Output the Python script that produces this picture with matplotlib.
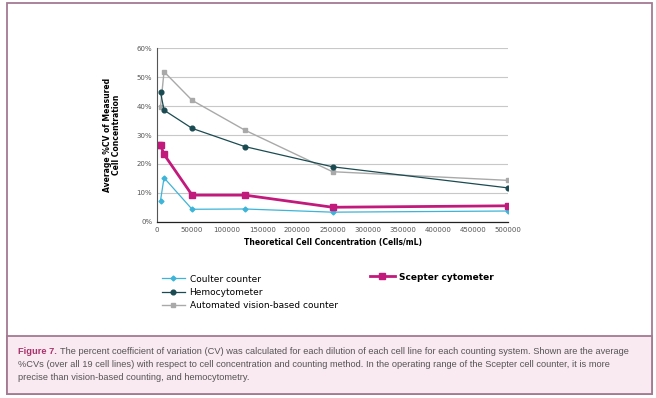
import numpy as np
import matplotlib.pyplot as plt
from matplotlib.lines import Line2D
from matplotlib.patches import Rectangle
from matplotlib.ticker import FuncFormatter

# values (%CV)
x_conc = [5000, 10000, 50000, 125000, 250000, 500000]
coulter = [7.3, 15.2, 4.3, 4.4, 3.3, 3.7]
hemo = [44.9, 38.6, 32.3, 26.0, 19.0, 11.7]
vision = [39.8, 51.9, 42.0, 31.7, 17.3, 14.3]
x_scepter = [2500, 5000, 10000, 50000, 125000, 250000, 500000]
scepter = [26.5, 26.5, 23.3, 9.2, 9.2, 5.0, 5.5]

c_coulter = '#3db4d8'
c_hemo = '#1b4b52'
c_vision = '#a9a9a9'
c_scepter = '#c2197c'
border = '#a27a92'

fig = plt.figure(figsize=(6.56, 3.98), dpi=100)
plt.rcParams['font.family'] = ['DejaVu Sans']

# outer frame and caption panel
fig.patches.append(Rectangle((7/656, 1-394/398), 645/656, 391/398, transform=fig.transFigure,
                             facecolor='white', edgecolor=border, lw=1.3, zorder=-10))
fig.patches.append(Rectangle((7/656, 1-394/398), 645/656, 58/398, transform=fig.transFigure,
                             facecolor='#f9e9f1', edgecolor=border, lw=1.3, zorder=-9))

ax = fig.add_axes([157/656, 1-221.7/398, 351/656, 173.4/398])
ax.set_facecolor('none')

ax.plot(x_conc, vision, color=c_vision, lw=1.0, marker='s', ms=3.2, label='Automated vision-based counter')
ax.plot(x_conc, hemo, color=c_hemo, lw=0.9, marker='o', ms=3.4, label='Hemocytometer')
ax.plot(x_conc, coulter, color=c_coulter, lw=0.9, marker='D', ms=2.5, label='Coulter counter')
ax.plot(x_scepter, scepter, color=c_scepter, lw=2.0, marker='s', ms=4.2, label='Scepter cytometer')

ax.set_xlim(0, 500000)
ax.set_ylim(0, 60)
ax.set_xticks(np.arange(0, 500001, 50000))
ax.set_yticks(np.arange(0, 61, 10))
ax.yaxis.set_major_formatter(FuncFormatter(lambda v, p: '%d%%' % v))
ax.grid(axis='y', color='#c8c8c8', lw=0.8)
ax.set_axisbelow(True)
for s in ['top', 'right']:
    ax.spines[s].set_visible(False)
ax.spines['left'].set_color('#555555')
ax.spines['bottom'].set_color('#222222')
ax.spines['left'].set_linewidth(0.8)
ax.spines['bottom'].set_linewidth(0.9)
ax.tick_params(axis='both', labelsize=5, colors='#555555', length=0, pad=3.5)

ax.set_xlabel('Theoretical Cell Concentration (Cells/mL)', fontsize=5.5, fontweight='bold', labelpad=4)
ax.set_ylabel('Average %CV of Measured\nCell Concentration', fontsize=5.5, fontweight='bold', labelpad=11,
              linespacing=1.1)

h_left = [Line2D([], [], color=c_coulter, lw=0.9, marker='D', ms=2.5),
          Line2D([], [], color=c_hemo, lw=0.9, marker='o', ms=3.4),
          Line2D([], [], color=c_vision, lw=1.0, marker='s', ms=3.2)]
fig.legend(h_left, ['Coulter counter', 'Hemocytometer', 'Automated vision-based counter'],
           loc='upper left', bbox_to_anchor=(158/656, 1-271/398), frameon=False,
           fontsize=6.5, handlelength=2.6, handletextpad=0.5, labelspacing=0.45, borderaxespad=0)
h_right = [Line2D([], [], color=c_scepter, lw=2.0, marker='s', ms=4.2)]
leg = fig.legend(h_right, ['Scepter cytometer'], loc='upper left', bbox_to_anchor=(366/656, 1-269/398),
                 frameon=False, fontsize=6.5, handlelength=2.8, handletextpad=0.5, borderaxespad=0)
for t in leg.get_texts():
    t.set_fontweight('bold')

cap_font = ['Liberation Sans', 'DejaVu Sans']
lines = ['The percent coefficient of variation (CV) was calculated for each dilution of each cell line for each counting system. Shown are the average',
         '%CVs (over all 19 cell lines) with respect to cell concentration and counting method. In the operating range of the Scepter cell counter, it is more',
         'precise than vision-based counting, and hemocytometry.']
fs = 6.5
t0 = fig.text(18/656, 1-352/398, 'Figure 7.', fontsize=fs, fontweight='bold', color='#a8336a',
              family=cap_font, va='center')
t1 = fig.text(0, 1-352/398, lines[0], fontsize=fs, color='#555555', family=cap_font, va='center')
t2 = fig.text(18/656, 1-364.5/398, lines[1], fontsize=fs, color='#555555', family=cap_font, va='center')
t3 = fig.text(18/656, 1-377/398, lines[2], fontsize=fs, color='#555555', family=cap_font, va='center')
# fit caption width so the first line ends near x=624 px
fig.canvas.draw()
w = t0.get_window_extent().width + 3 + t1.get_window_extent().width
fs = fs * (624 - 18) / w
for t in (t0, t1, t2, t3):
    t.set_fontsize(fs)
fig.canvas.draw()
t1.set_x((t0.get_window_extent().x1 + 3) / 656)

fig.savefig('out.png', dpi=100)
